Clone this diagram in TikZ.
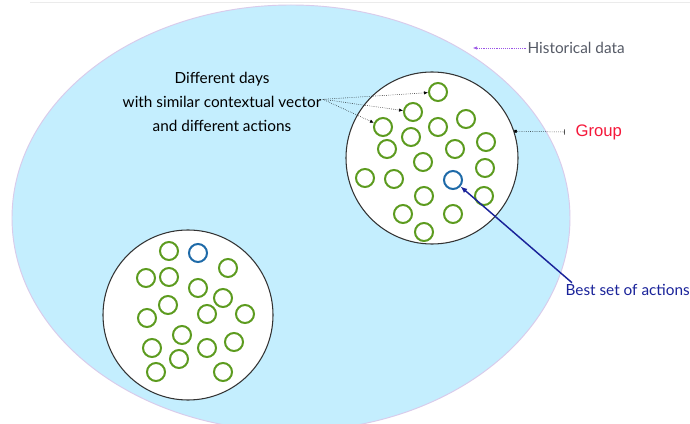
\documentclass[tikz,border=0pt]{standalone}
\usepackage{fontspec}
\setmainfont{Lato}
\newfontfamily\arialfont{Liberation Sans}
\usetikzlibrary{arrows.meta,shapes.geometric}
\definecolor{SkyFill}{HTML}{C4EEFE}
\definecolor{Lavender}{HTML}{D9CBEB}
\definecolor{LeafGreen}{HTML}{5C9B1F}
\definecolor{OceanBlue}{HTML}{1E6AA8}
\definecolor{InkNavy}{HTML}{1A239A}
\definecolor{Violet}{HTML}{9A55E6}
\definecolor{SlateGray}{HTML}{555A66}
\definecolor{GroupRed}{HTML}{F5183A}

\begin{document}
\begin{tikzpicture}[x=0.75pt,y=-0.75pt,
    dot/.style={circle,draw=LeafGreen,line width=1.5pt,minimum size=13.5pt,inner sep=0pt},
    bestdot/.style={dot,draw=OceanBlue},
    cluster/.style={circle,draw=black!80,line width=0.8pt,fill=white,minimum size=129pt,inner sep=0pt},
    lbl/.style={font=\fontsize{11.5}{18}\selectfont,inner sep=1pt},
    note/.style={densely dotted,thin,-{Latex[length=3pt,width=2.5pt]}}]
  \clip (0,0) rectangle (690,424);
  \fill[white] (0,0) rectangle (690,424);
  \draw[black!8] (30,2) -- (690,2);
  % historical data and the two groups
  \node[ellipse,draw=Lavender,line width=0.7pt,fill=SkyFill,
        minimum width=418.5pt,minimum height=319.5pt] (hdata) at (291,218) {};
  \node[cluster] (grpA) at (432,158) {};
  \node[cluster,minimum size=127.5pt] (grpB) at (188,315) {};
  \foreach \x/\y [count=\i] in {438/92,413/112,383/127,438/127,466/119,411/137,
      486/142,387/149,455/149,423/162,485/168,365/178,394/179,424/196,484/196,
      403/214,453/214,424/232}
    \node[dot] (a\i) at (\x,\y) {};
  \node[bestdot] (abest) at (453,180) {};
  \foreach \x/\y [count=\i] in {169/251,228/268,146/278,169/277,198/288,223/298,
      168/305,147/318,207/314,245/314,182/335,234/342,152/348,207/348,179/359,
      156/372,223/372}
    \node[dot] (b\i) at (\x,\y) {};
  \node[bestdot] (bbest) at (198,253) {};
  % labels
  \node[lbl,align=center] (days) at (222,102)
    {Different days\\with similar contextual vector\\and different actions};
  \node[lbl,text=SlateGray,anchor=west] (hist) at (526,48) {Historical data};
  \node[font=\arialfont\fontsize{12.5}{14}\selectfont,text=GroupRed,
        anchor=west,inner sep=1pt] (grp) at (574,132) {Group};
  \node[lbl,text=InkNavy,anchor=west] (bestlbl) at (564,290) {Best set of actions};
  % connectors
  \coordinate (histtip) at (473,48);
  \draw[note,Violet] (hist.west) -- (histtip);
  \draw[densely dotted,thin,{Bar[width=4pt]}-{Square[length=2pt,width=2pt]}]
    ([xshift=-7pt]grp.west) -- (grpA.18);
  \foreach \n in {a1,a2,a3}{\draw[note] ([yshift=2pt]days.east) -- (\n);}
  \draw[InkNavy,line width=1.1pt,-{Latex[length=5pt,width=4pt]}]
    ([xshift=6pt]bestlbl.north west) -- (abest);
\end{tikzpicture}
\end{document}
